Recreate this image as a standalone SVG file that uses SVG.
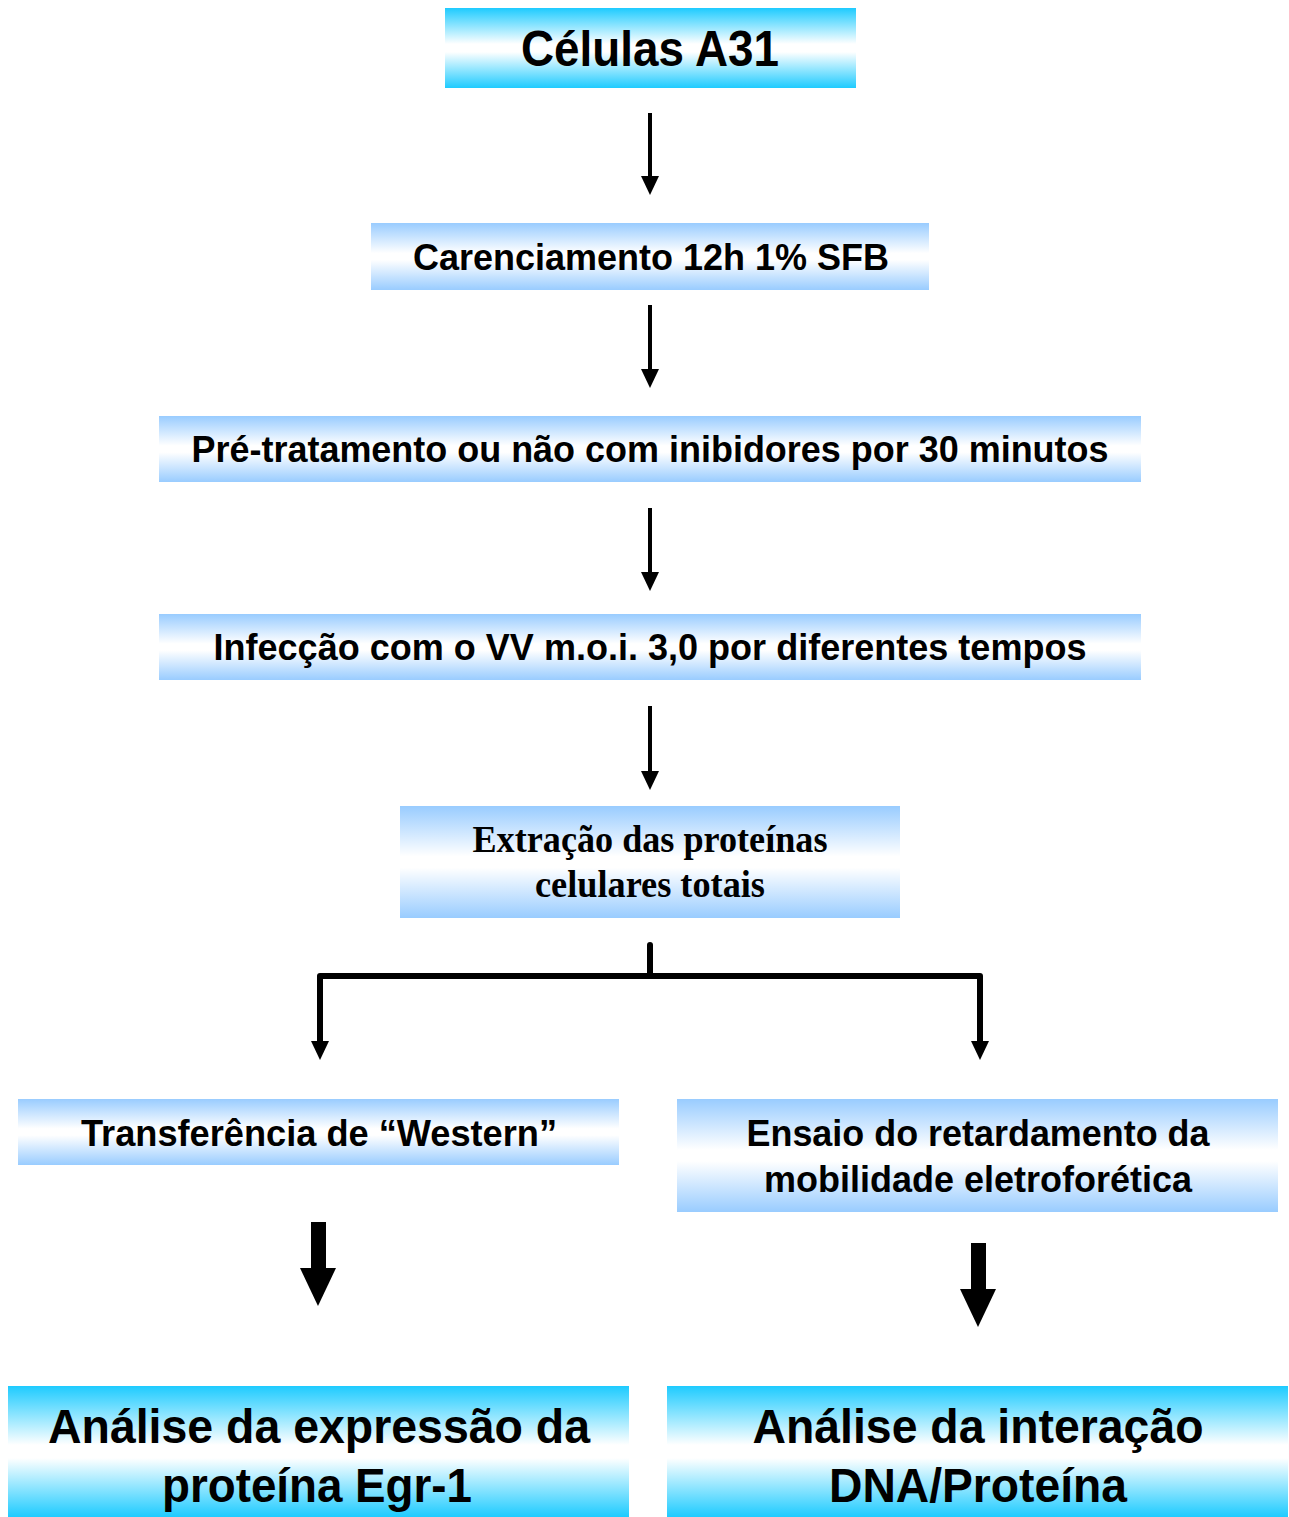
<svg xmlns="http://www.w3.org/2000/svg" width="1289" height="1517" viewBox="0 0 1289 1517">
<defs>
<linearGradient id="gc" x1="0" y1="0" x2="0" y2="1">
<stop offset="0" stop-color="#1ECBFF"/>
<stop offset="0.45" stop-color="#FFFFFF"/>
<stop offset="0.55" stop-color="#FFFFFF"/>
<stop offset="1" stop-color="#1ECBFF"/>
</linearGradient>
<linearGradient id="gb" x1="0" y1="0" x2="0" y2="1">
<stop offset="0" stop-color="#99CCFF"/>
<stop offset="0.45" stop-color="#FFFFFF"/>
<stop offset="0.55" stop-color="#FFFFFF"/>
<stop offset="1" stop-color="#99CCFF"/>
</linearGradient>
</defs>
<style>
.t{font-family:"Liberation Sans",Arial,sans-serif;font-weight:bold;fill:#000;text-anchor:middle}
.s{font-family:"Liberation Serif","Times New Roman",serif;font-weight:bold;fill:#000;text-anchor:middle}
.ln{stroke:#000;stroke-width:6;fill:none;stroke-linecap:round;stroke-linejoin:round}
.sh{stroke:#000;stroke-width:4;fill:none}
</style>
<rect width="1289" height="1517" fill="#fff"/>
<g id="n1">
<rect x="445" y="8" width="411" height="80" fill="url(#gc)"/>
<text class="t" x="650" y="66" font-size="50" textLength="258" lengthAdjust="spacingAndGlyphs">Células A31</text>
</g>
<g id="n2">
<rect x="371" y="223" width="558" height="67" fill="url(#gb)"/>
<text class="t" x="651" y="270" font-size="37" textLength="476" lengthAdjust="spacingAndGlyphs">Carenciamento 12h 1% SFB</text>
</g>
<g id="n3">
<rect x="159" y="416" width="982" height="66" fill="url(#gb)"/>
<text class="t" x="650" y="462" font-size="37" textLength="917" lengthAdjust="spacingAndGlyphs">Pré-tratamento ou não com inibidores por 30 minutos</text>
</g>
<g id="n4">
<rect x="159" y="614" width="982" height="66" fill="url(#gb)"/>
<text class="t" x="650" y="660" font-size="37" textLength="873" lengthAdjust="spacingAndGlyphs">Infecção com o VV m.o.i. 3,0 por diferentes tempos</text>
</g>
<g id="n5">
<rect x="400" y="806" width="500" height="112" fill="url(#gb)"/>
<text class="s" x="650" y="852" font-size="37" textLength="355" lengthAdjust="spacingAndGlyphs">Extração das proteínas</text>
<text class="s" x="650" y="897" font-size="37" textLength="230" lengthAdjust="spacingAndGlyphs">celulares totais</text>
</g>
<g id="n6">
<rect x="18" y="1099" width="601" height="66" fill="url(#gb)"/>
<text class="t" x="319" y="1146" font-size="37" textLength="476" lengthAdjust="spacingAndGlyphs">Transferência de “Western”</text>
</g>
<g id="n7">
<rect x="677" y="1099" width="601" height="113" fill="url(#gb)"/>
<text class="t" x="978" y="1146" font-size="37" textLength="463" lengthAdjust="spacingAndGlyphs">Ensaio do retardamento da</text>
<text class="t" x="978" y="1192" font-size="37" textLength="428" lengthAdjust="spacingAndGlyphs">mobilidade eletroforética</text>
</g>
<g id="n8">
<rect x="8" y="1386" width="621" height="131" fill="url(#gc)"/>
<text class="t" x="319" y="1443" font-size="48" textLength="542" lengthAdjust="spacingAndGlyphs">Análise da expressão da</text>
<text class="t" x="317" y="1502" font-size="48" textLength="310" lengthAdjust="spacingAndGlyphs">proteína Egr-1</text>
</g>
<g id="n9">
<rect x="667" y="1386" width="621" height="131" fill="url(#gc)"/>
<text class="t" x="978" y="1443" font-size="48" textLength="451" lengthAdjust="spacingAndGlyphs">Análise da interação</text>
<text class="t" x="978" y="1502" font-size="48" textLength="298" lengthAdjust="spacingAndGlyphs">DNA/Proteína</text>
</g>
<g id="connectors">
<line class="sh" x1="650" y1="113" x2="650" y2="178"/>
<polygon points="641,176 659,176 650,195"/>
<line class="sh" x1="650" y1="305" x2="650" y2="371"/>
<polygon points="641,369 659,369 650,388"/>
<line class="sh" x1="650" y1="508" x2="650" y2="574"/>
<polygon points="641,572 659,572 650,591"/>
<line class="sh" x1="650" y1="706" x2="650" y2="773"/>
<polygon points="641,771 659,771 650,790"/>
<polyline class="ln" points="650,945 650,976"/>
<polyline class="ln" points="320,1043 320,976 980,976 980,1043"/>
<polygon points="311,1041 329,1041 320,1060"/>
<polygon points="971,1041 989,1041 980,1060"/>
<rect x="311" y="1222" width="15" height="50"/>
<polygon points="300,1268 336,1268 318,1306"/>
<rect x="971" y="1243" width="15" height="50"/>
<polygon points="960,1289 996,1289 978,1327"/>
</g>
</svg>
